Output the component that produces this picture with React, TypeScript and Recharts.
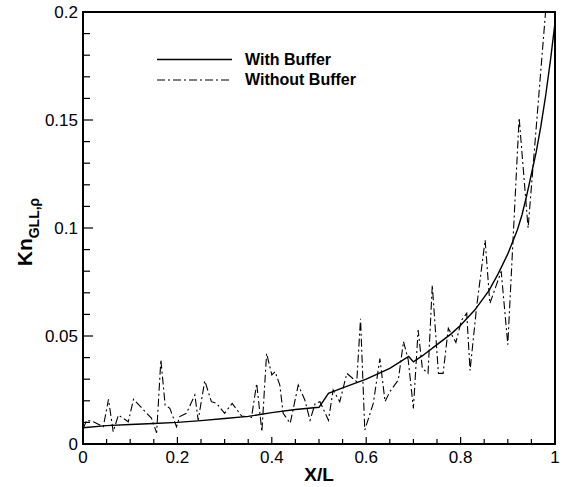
import React from "react";
import { LineChart, Line, XAxis, YAxis, ReferenceArea } from "recharts";

// "With Buffer" curve (smooth)
const withBufferX = [0, 0.05, 0.1, 0.15, 0.2, 0.25, 0.3, 0.35, 0.4, 0.45, 0.5, 0.52, 0.55, 0.6, 0.65, 0.69, 0.7, 0.72, 0.75, 0.78, 0.8, 0.83, 0.86, 0.88, 0.9, 0.92, 0.93, 0.94, 0.95, 0.96, 0.97, 0.98, 0.99, 1.0];
const withBufferKn = [0.0075, 0.0085, 0.009, 0.0095, 0.01, 0.0108, 0.0118, 0.0128, 0.0145, 0.016, 0.017, 0.0235, 0.026, 0.03, 0.035, 0.0405, 0.038, 0.041, 0.046, 0.051, 0.055, 0.062, 0.071, 0.079, 0.088, 0.099, 0.106, 0.115, 0.125, 0.135, 0.147, 0.161, 0.177, 0.195];

// "Without Buffer" curve (noisy)
const withoutBufferX = [0, 0.008, 0.022, 0.043, 0.054, 0.064, 0.075, 0.096, 0.107, 0.135, 0.145, 0.156, 0.165, 0.174, 0.184, 0.19, 0.198, 0.205, 0.219, 0.237, 0.244, 0.258, 0.272, 0.283, 0.3, 0.316, 0.336, 0.357, 0.368, 0.379, 0.389, 0.4, 0.407, 0.417, 0.424, 0.439, 0.456, 0.47, 0.481, 0.492, 0.502, 0.52, 0.53, 0.544, 0.559, 0.58, 0.588, 0.597, 0.615, 0.629, 0.64, 0.65, 0.668, 0.679, 0.689, 0.7, 0.71, 0.719, 0.731, 0.74, 0.753, 0.763, 0.774, 0.79, 0.802, 0.813, 0.82, 0.834, 0.852, 0.862, 0.886, 0.9, 0.924, 0.943, 0.98];
const withoutBufferKn = [0.007, 0.011, 0.0103, 0.008, 0.0207, 0.0057, 0.0134, 0.0103, 0.0207, 0.0142, 0.012, 0.0052, 0.039, 0.018, 0.0165, 0.013, 0.008, 0.0127, 0.0142, 0.0227, 0.011, 0.0293, 0.0196, 0.0188, 0.0142, 0.0188, 0.013, 0.0123, 0.028, 0.0057, 0.042, 0.032, 0.0335, 0.0273, 0.0142, 0.0096, 0.0273, 0.0204, 0.011, 0.0188, 0.0196, 0.011, 0.025, 0.0196, 0.0327, 0.0288, 0.058, 0.0065, 0.0188, 0.0395, 0.0196, 0.0242, 0.0296, 0.0474, 0.039, 0.0165, 0.0528, 0.035, 0.0327, 0.0736, 0.0327, 0.0327, 0.0536, 0.047, 0.0574, 0.0605, 0.034, 0.0636, 0.0944, 0.065, 0.08, 0.046, 0.151, 0.1, 0.2];

const xTicks = [0, 0.05, 0.1, 0.15, 0.2, 0.25, 0.3, 0.35, 0.4, 0.45, 0.5, 0.55, 0.6, 0.65, 0.7, 0.75, 0.8, 0.85, 0.9, 0.95, 1];
const xTickLabels = ["0", "0.2", "0.4", "0.6", "0.8", "1"];
const yTicks = [0, 0.01, 0.02, 0.03, 0.04, 0.05, 0.06, 0.07, 0.08, 0.09, 0.1, 0.11, 0.12, 0.13, 0.14, 0.15, 0.16, 0.17, 0.18, 0.19, 0.2];
const yTickLabels = ["0", "0.05", "0.1", "0.15", "0.2"];

const withBuffer = withBufferX.map((x, i) => ({ x, kn: withBufferKn[i] }));
const withoutBuffer = withoutBufferX.map((x, i) => ({ x, kn: withoutBufferKn[i] }));

const FONT = "'Liberation Sans', Arial, Helvetica, sans-serif";

const fmt = (v: number) => String(Math.round(v * 1000) / 1000);

const XTick = (props: any) => {
  const { x, y, payload } = props;
  const label = fmt(payload.value);
  const major = xTickLabels.includes(label);
  return (
    <g>
      <line x1={x} x2={x} y1={y} y2={y - (major ? 7 : 5)} stroke="#000" strokeWidth={1.2} />
      {major && (
        <text x={x} y={y + 19} textAnchor="middle" fontSize={17} fontFamily={FONT} fill="#000">
          {label}
        </text>
      )}
    </g>
  );
};

const YTick = (props: any) => {
  const { x, y, payload } = props;
  const label = fmt(payload.value);
  const major = yTickLabels.includes(label);
  return (
    <g>
      <line x1={x} x2={x + (major ? 10 : 7)} y1={y} y2={y} stroke="#000" strokeWidth={1.2} />
      {major && (
        <text x={x - 5} y={y} dy="0.36em" textAnchor="end" fontSize={17} fontFamily={FONT} fill="#000">
          {label}
        </text>
      )}
    </g>
  );
};

const XTitle = (props: any) => {
  const vb = props.viewBox;
  return (
    <text x={vb.x + vb.width / 2} y={vb.y + 37} textAnchor="middle" fontSize={19} fontWeight="bold" fontFamily={FONT} fill="#000">
      X/L
    </text>
  );
};

const YTitle = (props: any) => {
  const vb = props.viewBox;
  const cy = vb.y + vb.height / 2 + 4;
  return (
    <text x={32} y={cy} transform={`rotate(-90 32 ${cy})`} textAnchor="middle" fontSize={21} fontWeight="bold" fontFamily={FONT} fill="#000">
      Kn
      <tspan fontSize={14} dy={7}>GLL,ρ</tspan>
    </text>
  );
};

export default function App() {
  return (
    <div style={{ position: "absolute", left: 0, top: 0, width: 565, height: 487, background: "#fff" }}>
      <LineChart width={565} height={487} margin={{ top: 12, right: 10, bottom: 0, left: 0 }} style={{ fontFamily: FONT }}>
        <XAxis
          type="number"
          dataKey="x"
          domain={[0, 1]}
          ticks={xTicks}
          interval={0}
          height={43}
          tickSize={0}
          tickMargin={0}
          tickLine={false}
          axisLine={{ stroke: "#000", strokeWidth: 2 }}
          tick={<XTick />}
          label={{ content: <XTitle /> }}
        />
        <YAxis
          type="number"
          dataKey="kn"
          domain={[0, 0.2]}
          ticks={yTicks}
          interval={0}
          width={83}
          tickSize={0}
          tickMargin={0}
          tickLine={false}
          axisLine={{ stroke: "#000", strokeWidth: 2 }}
          tick={<YTick />}
          label={{ content: <YTitle /> }}
        />
        <ReferenceArea x1={0} x2={1} y1={0} y2={0.2} fill="none" stroke="#000" strokeWidth={2} />
        <Line
          data={withoutBuffer}
          dataKey="kn"
          type="linear"
          stroke="#000"
          strokeWidth={1.1}
          strokeDasharray="8 3 2 3"
          dot={false}
          isAnimationActive={false}
        />
        <Line
          data={withBuffer}
          dataKey="kn"
          type="linear"
          stroke="#000"
          strokeWidth={1.4}
          dot={false}
          isAnimationActive={false}
        />
      </LineChart>
      <svg width={565} height={487} style={{ position: "absolute", left: 0, top: 0, pointerEvents: "none" }}>
        <line x1={157} x2={232} y1={59.5} y2={59.5} stroke="#000" strokeWidth={1.4} />
        <text x={245} y={64.5} fontSize={16} fontWeight="bold" fontFamily={FONT} fill="#000">With Buffer</text>
        <line x1={157} x2={232} y1={80} y2={80} stroke="#000" strokeWidth={1.1} strokeDasharray="8 3 2 3" />
        <text x={245} y={85} fontSize={16} fontWeight="bold" fontFamily={FONT} fill="#000">Without Buffer</text>
      </svg>
    </div>
  );
}
